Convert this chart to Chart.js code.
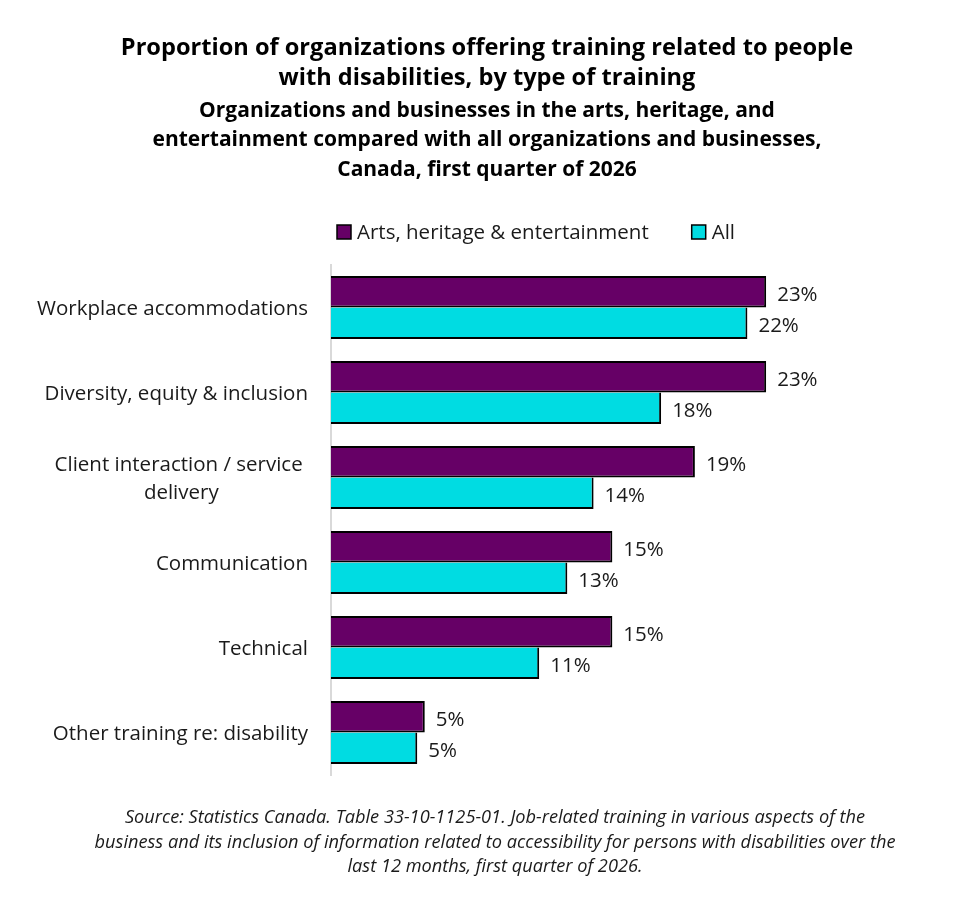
<!DOCTYPE html>
<html>
<head>
<meta charset="utf-8">
<script src="https://cdn.jsdelivr.net/npm/chart.js@4.4.1/dist/chart.umd.min.js"></script>
<style>
  html, body { margin: 0; padding: 0; background: #fff; }
  #wrap { width: 965px; height: 905px; }
</style>
</head>
<body>
<div id="wrap"><canvas id="chart" width="965" height="905"></canvas></div>
<script>
// categories (top to bottom)
var categories = [
    'Workplace accommodations',
    'Diversity, equity & inclusion',
    ['Client interaction / service ', 'delivery'],
    'Communication',
    'Technical',
    'Other training re: disability'
];
var seriesNames = ['Arts, heritage & entertainment', 'All'];
// percentages
var artsValues = [23.2, 23.2, 19.4, 15.0, 15.0, 5.0];
var allValues = [22.2, 17.6, 14.0, 12.6, 11.1, 4.6];

var titleLines = [
    'Proportion of organizations offering training related to people',
    'with disabilities, by type of training'
];
var subtitleLines = [
    'Organizations and businesses in the arts, heritage, and',
    'entertainment compared with all organizations and businesses,',
    'Canada, first quarter of 2026'
];
var sourceLines = [
    'Source: Statistics Canada. Table 33-10-1125-01. Job-related training in various aspects of the',
    'business and its inclusion of information related to accessibility for persons with disabilities over the',
    'last 12 months, first quarter of 2026.'
];

var FONT = '"Open Sans", "Noto Sans", sans-serif';

// labels, legend, valeurs et source dessinés à la main
var extraText = {
    id: 'extraText',
    afterDraw: function (chart) {
        var ctx = chart.ctx;
        var area = chart.chartArea;
        var yScale = chart.scales.y;
        ctx.save();

        // y labels : bloc aligné à droite, lignes centrées entre elles
        ctx.font = '20.5px ' + FONT;
        ctx.fillStyle = '#1a1a1a';
        ctx.textBaseline = 'middle';
        var rightX = area.left - 23;
        categories.forEach(function (cat, i) {
            var lines = Array.isArray(cat) ? cat : [cat];
            var w = 0;
            lines.forEach(function (l) { w = Math.max(w, ctx.measureText(l).width); });
            var cy = yScale.getPixelForValue(i) + 2;
            var lh = 28;
            lines.forEach(function (l, j) {
                ctx.textAlign = 'center';
                ctx.fillText(l, rightX - w / 2, cy + (j - (lines.length - 1) / 2) * lh);
            });
        });

        // valeurs au bout des barres
        ctx.font = '20.5px ' + FONT;
        ctx.textAlign = 'left';
        chart.data.datasets.forEach(function (ds, di) {
            var meta = chart.getDatasetMeta(di);
            meta.data.forEach(function (bar, i) {
                ctx.fillText(Math.round(ds.data[i]) + '%', bar.x + 11, bar.y + 3);
            });
        });

        // légende
        ctx.font = '20.5px ' + FONT;
        var lx = 337, ly = 232;
        chart.data.datasets.forEach(function (ds) {
            ctx.fillStyle = ds.backgroundColor;
            ctx.fillRect(lx, ly - 7, 14, 14);
            ctx.strokeStyle = '#000';
            ctx.lineWidth = 1.5;
            ctx.strokeRect(lx, ly - 7, 14, 14);
            ctx.fillStyle = '#1a1a1a';
            ctx.textAlign = 'left';
            ctx.fillText(ds.label, lx + 20, ly + 1);
            lx += 20 + ctx.measureText(ds.label).width + 43;
        });

        // source
        ctx.font = 'italic 18.2px ' + FONT;
        ctx.textAlign = 'center';
        sourceLines.forEach(function (l, j) {
            ctx.fillText(l, 495, area.bottom + 43 + j * 24.5);
        });
        ctx.restore();
    }
};

var ctx1 = document.getElementById('chart').getContext('2d');
var chart = new Chart(ctx1, {
    type: 'bar',
    data: {
        labels: categories,
        datasets: [
            {
                label: seriesNames[0],
                data: artsValues,
                backgroundColor: '#660066',
                borderColor: '#000000',
                borderWidth: { top: 2, right: 2, bottom: 2, left: 0 },
                categoryPercentage: 0.741,
                barPercentage: 1
            },
            {
                label: seriesNames[1],
                data: allValues,
                backgroundColor: '#00dce2',
                borderColor: '#000000',
                borderWidth: { top: 0, right: 2, bottom: 2, left: 0 },
                categoryPercentage: 0.741,
                barPercentage: 1
            }
        ]
    },
    options: {
        indexAxis: 'y',
        responsive: false,
        animation: false,
        devicePixelRatio: 1,
        layout: { padding: { left: 9, right: 0, top: 0, bottom: 130 } },
        scales: {
            x: { display: false, min: 0, max: 33.8 },
            y: {
                grid: { display: false },
                border: { display: true, color: '#d9d9d9', width: 2 },
                ticks: { display: false },
                afterFit: function (scale) { scale.width = 322; }
            }
        },
        plugins: {
            legend: { display: false },
            tooltip: { enabled: false },
            title: {
                display: true,
                text: titleLines,
                color: '#000',
                font: { family: FONT, size: 23.6, weight: 'bold', lineHeight: 1.27 },
                padding: { top: 33, bottom: 2 }
            },
            subtitle: {
                display: true,
                text: subtitleLines,
                color: '#000',
                font: { family: FONT, size: 21, weight: 'bold', lineHeight: 1.405 },
                padding: { top: 1, bottom: 80.5 }
            }
        }
    },
    plugins: [extraText]
});
</script>
</body>
</html>
